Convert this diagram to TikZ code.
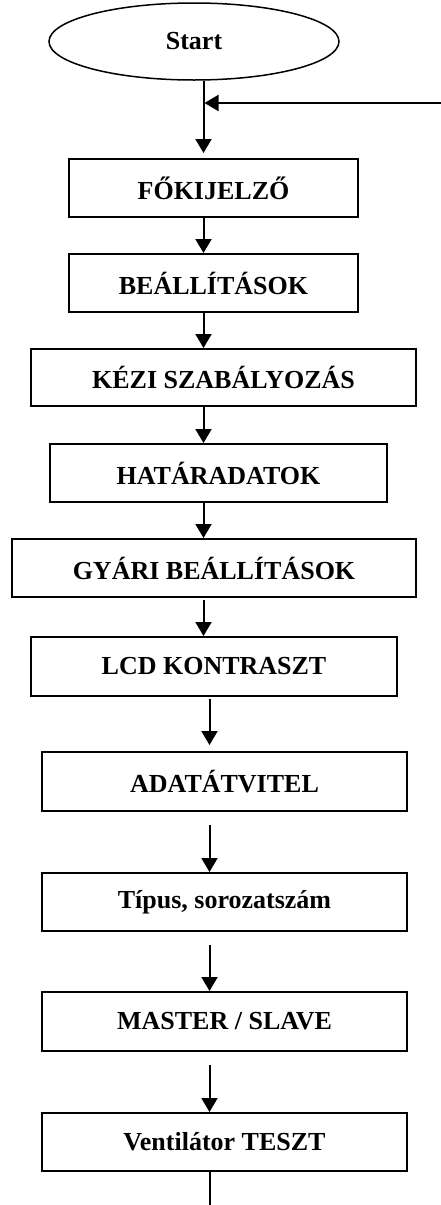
\documentclass[tikz,border=0pt]{standalone}
\usepackage{fontspec}
\setmainfont{Liberation Serif}
\usetikzlibrary{shapes.geometric,arrows.meta}
\begin{document}
\begin{tikzpicture}[x=1pt,y=-1pt,
  box/.style={draw=black,line width=2pt,rectangle,inner sep=0pt,font=\fontsize{26}{30}\selectfont\bfseries},
  term/.style={draw=black,line width=1.5pt,ellipse,inner sep=0pt,minimum width=290pt,minimum height=77pt,font=\fontsize{26}{30}\selectfont\bfseries},
  arr/.style={line width=2pt,-{Triangle[length=14pt,width=16pt]}},
  plain/.style={line width=2pt}]
\useasboundingbox (0,0) rectangle (441,1205);
\coordinate (la) at (203.5,0);
\coordinate (lb) at (209.5,0);
\node[term] (start) at (194,41.5) {Start};
\node[box,minimum width=289pt,minimum height=58pt] (fo) at (213.5,188) {FŐKIJELZŐ};
\node[box,minimum width=289pt,minimum height=58pt] (be) at (213.5,283) {BEÁLLÍTÁSOK};
\node[box,minimum width=385pt,minimum height=57pt] (ke) at (223.5,377.5) {KÉZI SZABÁLYOZÁS};
\node[box,minimum width=337pt,minimum height=58pt] (ha) at (218.5,473) {HATÁRADATOK};
\node[box,minimum width=404pt,minimum height=58pt] (gy) at (214,568) {GYÁRI BEÁLLÍTÁSOK};
\node[box,minimum width=366pt,minimum height=59pt] (lcd) at (214,666.5) {LCD KONTRASZT};
\node[box,minimum width=365pt,minimum height=59pt] (ad) at (224.5,781.5) {ADATÁTVITEL};
\node[box,minimum width=365pt,minimum height=58pt] (ti) at (224.5,902) {Típus, sorozatszám};
\node[box,minimum width=365pt,minimum height=59pt] (ma) at (224.5,1021.5) {MASTER / SLAVE};
\node[box,minimum width=365pt,minimum height=58pt] (ve) at (224.5,1142) {Ventilátor TESZT};
\coordinate (fbr) at (441,103);
\coordinate (fbl) at (204.5,103);
\coordinate (endpt) at (209.5,1205);
% connectors
\draw[arr,shorten >=5pt] (start.south -| la) -- (fo.north -| la);
\draw[arr] (fbr) -- (fbl);
\draw[arr] (fo.south -| la) -- (be.north -| la);
\draw[arr] (be.south -| la) -- (ke.north -| la);
\draw[arr] (ke.south -| la) -- (ha.north -| la);
\draw[arr] (ha.south -| la) -- (gy.north -| la);
\draw[arr,shorten <=2pt] (gy.south -| la) -- (lcd.north -| la);
\draw[arr,shorten <=2pt,shorten >=6pt] (lcd.south -| lb) -- (ad.north -| lb);
\draw[arr,shorten <=13pt] (ad.south -| lb) -- (ti.north -| lb);
\draw[arr,shorten <=13pt] (ti.south -| lb) -- (ma.north -| lb);
\draw[arr,shorten <=13pt] (ma.south -| lb) -- (ve.north -| lb);
\draw[plain] (ve.south -| lb) -- (endpt);
\end{tikzpicture}
\end{document}
